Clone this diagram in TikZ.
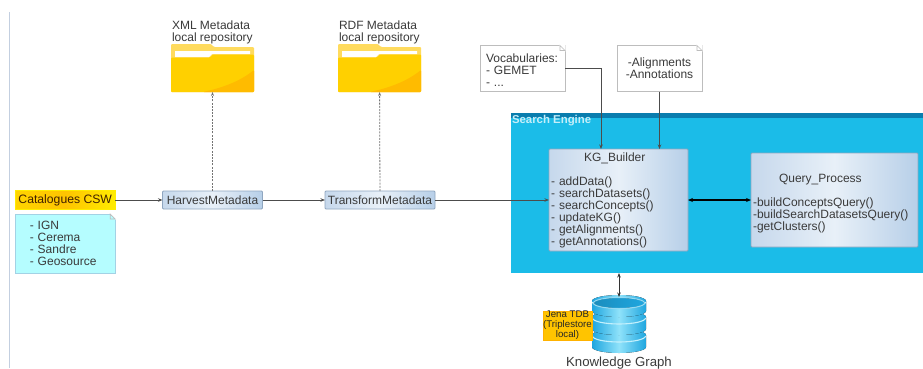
\documentclass[tikz,border=0pt]{standalone}
\usepackage{fontspec}
\setmainfont{Liberation Sans}
\usetikzlibrary{arrows.meta}
\definecolor{txt}{HTML}{3A3A3A}
\definecolor{boxedge}{HTML}{8FA6C0}
\definecolor{boxl}{HTML}{C6D8EC}
\definecolor{boxm}{HTML}{E8F0F8}
\definecolor{boxr}{HTML}{B7CFE8}
\definecolor{engine}{HTML}{1BBCE8}
\definecolor{enginetop}{HTML}{0A7DAE}
\definecolor{fold}{HTML}{FFD000}
\definecolor{foldback}{HTML}{FFDB5E}
\definecolor{folddark}{HTML}{FFBB00}
\definecolor{noteedge}{HTML}{BDBDBD}
\definecolor{dbdark}{HTML}{1FA6DF}
\definecolor{dblight}{HTML}{8FE2FA}
\definecolor{dbrim}{HTML}{C4F0FC}
\definecolor{cswa}{HTML}{FFD400}
\definecolor{cswb}{HTML}{FFC400}
\definecolor{cswc}{HTML}{FFEC00}
\definecolor{notecyan}{HTML}{B5FDFF}
\definecolor{rulecol}{HTML}{C3CFE0}
\newcommand{\ftext}[2]{\fontsize{#1}{#2}\selectfont}
\tikzset{
  x=1pt,y=-1pt,
  every node/.style={text=txt,inner sep=0pt,outer sep=0pt},
  body/.style={font=\ftext{12}{12}},
  procbox/.style={body,draw=boxedge,line width=0.9pt,rounded corners=1pt,left color=boxl,right color=boxr,middle color=boxm},
  notebox/.style={body,draw=noteedge,line width=0.8pt,fill=white},
  flow/.style={draw=black!70,line width=0.8pt,-{Stealth[length=4.5pt,width=3.5pt]}},
  dashflow/.style={draw=black!55,line width=0.8pt,dash pattern=on 2pt off 1.2pt,-{Stealth[length=4pt,width=3pt]}},
  bothflow/.style={draw=black,line width=1.2pt,{Stealth[length=5pt,width=4pt]}-{Stealth[length=5pt,width=4pt]}},
  thinboth/.style={draw=black!80,line width=0.8pt,{Stealth[length=4.5pt,width=3.5pt]}-{Stealth[length=4.5pt,width=3.5pt]}},
}
\newcommand{\earcorner}[2][white]{%
  \fill[white] (#2.north east) ++(0.6,-0.6) -- ++(-6.6,0) -- ++(6.6,6.6) -- cycle;
  \draw[noteedge,line width=0.7pt,fill=#1] (#2.north east) ++(-5,0) -- ++(5,5) -- ++(-5,0) -- cycle;}
\newcommand{\folderart}[2]{%
  \begin{scope}[shift={(#1,#2)}]
    \fill[foldback,rounded corners=1pt] (0,48) -- (0,0) -- (40,0) -- (43,3) -- (83,3) -- (83,48) -- cycle;
    \fill[white] (4,7) -- (79,7) -- (79,10) -- (41,10) -- (38,13) -- (4,13) -- cycle;
    \fill[fold,rounded corners=1pt] (0,48) -- (0,13.5) -- (39,13.5) -- (42,10.5) -- (83,10.5) -- (83,48) -- cycle;
    \fill[folddark,rounded corners=1pt] (83,26) .. controls (68,38) and (50,44) .. (32,48) -- (83,48) -- cycle;
  \end{scope}}
\begin{document}
\begin{tikzpicture}
\useasboundingbox (0,0) rectangle (923,368);
\fill[white] (0,0) rectangle (923,368);
\draw[color=rulecol,line width=1pt] (9.5,12) -- (9.5,368);

% search engine panel
\node[fill=engine,minimum width=412pt,minimum height=160pt] (engine) at (717,193) {};
\fill[enginetop] (511,113) rectangle (923,118);
\node[anchor=west,font=\bfseries\ftext{11.4}{12},text=white!75!engine] (enginelabel) at (512,121) {Search Engine};

% folders
\folderart{171}{44}
\folderart{338}{44}
\node[minimum width=83pt,minimum height=48pt] (xmlfolder) at (212.5,68) {};
\node[minimum width=83pt,minimum height=48pt] (rdffolder) at (379.5,68) {};
\node[body,anchor=south west,align=left] (xmllabel) at (172,43.5) {XML Metadata\\local repository};
\node[body,anchor=south west,align=left] (rdflabel) at (339,43.5) {RDF Metadata\\local repository};

% sources
\node[font=\ftext{12.2}{12},draw=cswc,line width=0.8pt,left color=cswa,right color=cswc,middle color=cswb,text=black!75!orange,minimum width=100pt,minimum height=18.5pt] (csw) at (65.25,200) {Catalogues CSW};
\node[notebox,fill=notecyan,draw=black!25!cyan!40!white,minimum width=100pt,minimum height=59pt,align=left,text width=85pt,text=txt] (cswnote) at (65.25,243.5) {\hspace*{7pt}- IGN\\\hspace*{7pt}- Cerema\\\hspace*{7pt}- Sandre\\\hspace*{7pt}- Geosource};

% processes
\node[procbox,minimum width=100pt,minimum height=18pt] (harvest) at (212.5,200) {HarvestMetadata};
\node[procbox,minimum width=110pt,minimum height=18pt] (transform) at (380,200) {TransformMetadata};
\node[procbox,minimum width=139pt,minimum height=102pt,align=left,text width=135pt] (kg) at (618.5,200) {\hspace*{33pt}KG\_Builder\\[12pt]- addData()\\- searchDatasets()\\- searchConcepts()\\- updateKG()\\- getAlignments()\\- getAnnotations()};
\node[procbox,minimum width=167pt,minimum height=94pt,align=left,text width=163pt] (query) at (834.5,200) {\rule{0pt}{15pt}\hspace*{26pt}Query\_Process\\[12pt]-buildConceptsQuery()\\-buildSearchDatasetsQuery()\\-getClusters()};

% notes
\node[notebox,minimum width=85pt,minimum height=46pt,align=left,text width=73pt] (vocab) at (522.5,68.5) {\rule{0pt}{12pt}Vocabularies:\\- GEMET\\- ...};
\node[notebox,minimum width=85pt,minimum height=46pt,align=center] (align) at (659.5,68.5) {-Alignments\\-Annotations};

\earcorner[white]{vocab}
\earcorner[white]{align}
\earcorner[notecyan]{cswnote}

% database
\node[minimum width=54pt,minimum height=57pt] (db) at (619,325.5) {};
\foreach \ya/\yb in {335/347,317/329,301/311}{
  \fill[left color=dbdark,right color=dbdark,middle color=dblight] (592,\ya) -- (592,\yb) arc[start angle=180,end angle=360,x radius=27pt,y radius=6pt] -- (646,\ya) arc[start angle=0,end angle=180,x radius=27pt,y radius=6pt] -- cycle;
  \draw[dbrim,line width=1.1pt] (592.5,\ya+1) arc[start angle=180,end angle=360,x radius=26.5pt,y radius=6pt];
}
\fill[left color=dbdark!85!black,right color=dbdark] (619,303) ellipse[x radius=25pt,y radius=5pt];
\draw[dbrim!70!dbdark,line width=1pt] (619,303) ellipse[x radius=25.5pt,y radius=5.5pt];
\node[fill=cswb,draw=orange!60!yellow,line width=0.5pt,minimum width=49pt,minimum height=29pt,font=\ftext{9.7}{10},align=center,text=black!85] (jena) at (567.5,325.5) {Jena TDB\\(Triplestore\\local)};
\node[font=\ftext{13.2}{14}] (kglabel) at (619,363) {Knowledge Graph};

% connectors
\coordinate (vocabdrop) at (601,149);
\draw[flow] (csw) -- (harvest);
\draw[flow] (harvest) -- (transform);
\draw[flow] (transform) -- (kg);
\draw[dashflow] (harvest) -- (xmlfolder);
\draw[dashflow] (transform) -- (rdffolder);
\draw[flow] (vocab.east) -| (vocabdrop);
\draw[flow] (align) -- (align |- kg.north);
\draw[bothflow] (kg) -- (query);
\draw[thinboth] (engine.south -| db.north) -- (db.north);
\end{tikzpicture}
\end{document}
